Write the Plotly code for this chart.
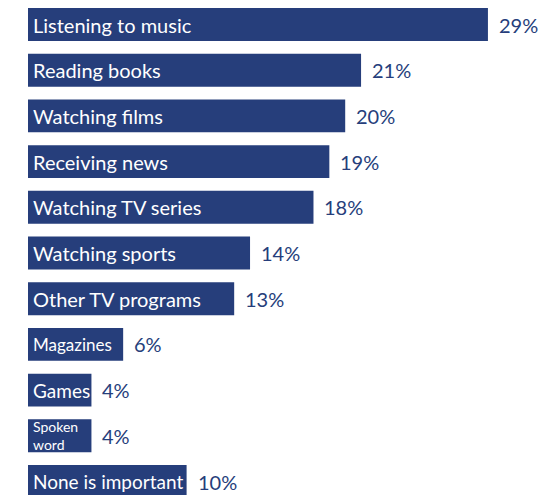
import plotly.graph_objects as go

categories = ["Listening to music", "Reading books", "Watching films", "Receiving news",
              "Watching TV series", "Watching sports", "Other TV programs", "Magazines",
              "Games", "Spoken<br>word", "None is important"]
values = [29, 21, 20, 19, 18, 14, 13, 6, 4, 4, 10]
value_labels = ["29%", "21%", "20%", "19%", "18%", "14%", "13%", "6%", "4%", "4%", "10%"]
label_sizes = [20, 20, 20, 20, 20, 20, 20, 17, 19, 14, 19]

NAVY = "#263e7b"
FONT = "Lato"

ids = list(range(len(categories)))

fig = go.Figure(go.Bar(
    x=values, y=ids, orientation="h",
    marker=dict(color=NAVY, line=dict(width=0)),
    width=0.72, hoverinfo="skip",
))

for i, (c, v, lab, s) in enumerate(zip(categories, values, value_labels, label_sizes)):
    fig.add_annotation(x=0, y=i, text=c, xanchor="left", yanchor="middle", align="left",
                       xshift=3, showarrow=False,
                       font=dict(family=FONT, size=s, color="white"))
    fig.add_annotation(x=v, y=i, text=lab, xanchor="left", yanchor="middle",
                       xshift=9, showarrow=False,
                       font=dict(family=FONT, size=20, color=NAVY))

fig.update_layout(
    width=540, height=487,
    margin=dict(l=20, r=0, t=0, b=0),
    plot_bgcolor="white", paper_bgcolor="white",
    showlegend=False,
    xaxis=dict(range=[0, 520 / 15.86], visible=False, fixedrange=True),
    yaxis=dict(range=[-0.361 + 487 / 45.7, -0.361], visible=False, fixedrange=True),
)

fig.write_html("out.html")
